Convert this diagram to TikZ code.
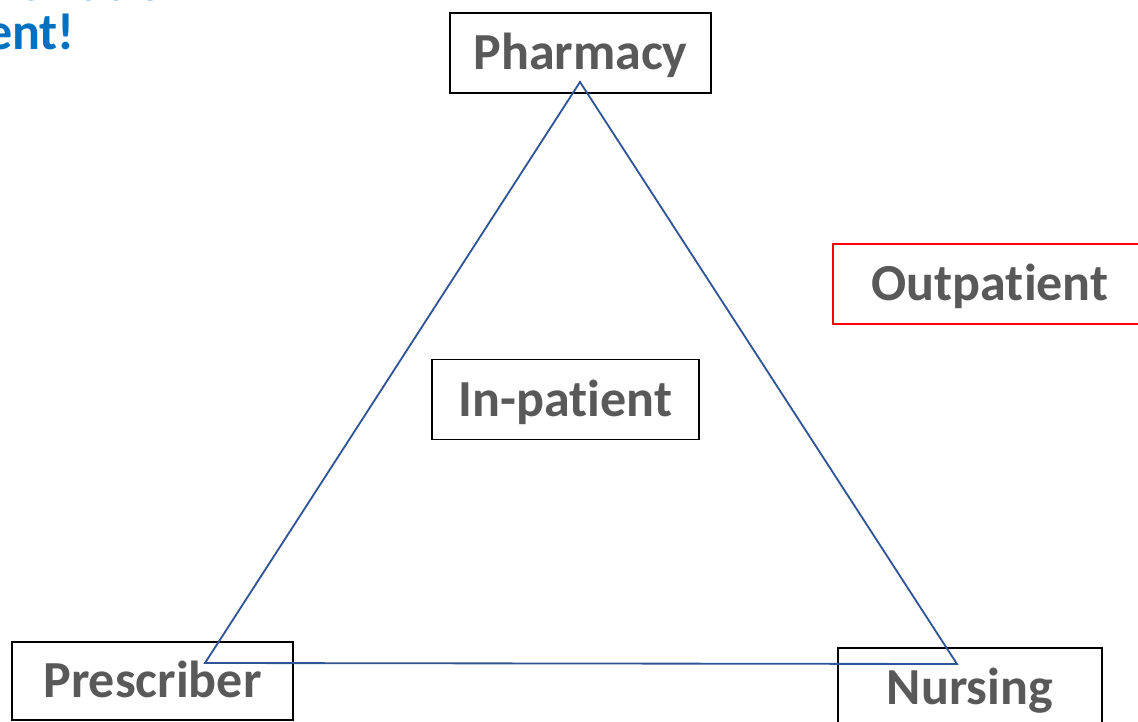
\documentclass[tikz,border=0pt]{standalone}
\usepackage{fontspec}
\setmainfont{Carlito}[Ligatures=NoCommon]
\definecolor{labelgray}{HTML}{595959}
\definecolor{edgeblue}{HTML}{2F5597}
\definecolor{titleblue}{HTML}{0070C0}
\tikzset{every node/.style={font=\bfseries\fontsize{37}{40}\selectfont,
           inner sep=0pt,
           text height=23.8pt, % cap height, so the caps sit in the middle
           text depth=0pt},
         area/.style={ % Sets the properties for each care setting
           draw=black, line width=1.2pt,
           text=labelgray,
           minimum height=2cm},
         outside/.style={area, draw=red, line width=1pt},
         title/.style={text=titleblue, anchor=base east},
         link/.style={draw=edgeblue, line width=1.3pt, line join=miter}}

\begin{document}
\begin{tikzpicture}[x=0.025cm, y=-0.025cm]
  \path[use as bounding box, clip] (0,0) rectangle (1138,722);

  % slide heading, mostly off the page
  \node [title] (head) at (192,1) {Medication reconciliation};
  \node [title] (subhead) at (75,50) {for every patient!};

  \node [area, minimum width=6.525cm] (pharmacy) at (580.5,53) {Pharmacy};
  \node [area, minimum width=6.675cm] (inpatient) at (565.5,399.5) {In-patient};
  \node [outside, minimum width=7.85cm] (outpatient) at (990,284) {Outpatient};
  \node [area, minimum width=7.025cm, minimum height=1.95cm] (prescriber) at (152.5,681) {Prescriber};
  \node [area, minimum width=6.6cm] (nursing) at (970,688) {Nursing};

  \coordinate (apex) at (580,82);
  \coordinate (leftfoot) at (205,663);
  \coordinate (rightfoot) at (957,664);
  \draw [link] (apex) -- (leftfoot) -- (rightfoot) -- cycle;

\end{tikzpicture}
\end{document}
